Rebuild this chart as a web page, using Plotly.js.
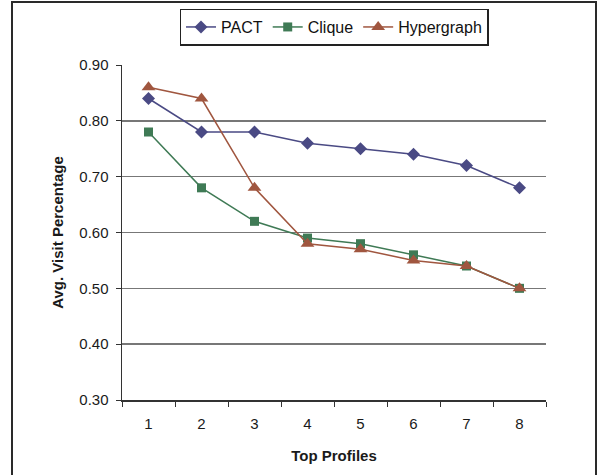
<!DOCTYPE html>
<html>
<head>
<meta charset="utf-8">
<script src="https://cdn.plot.ly/plotly-3.0.1.min.js"></script>
<style>
html,body{margin:0;padding:0;background:#fff;}
#wrap{position:relative;width:597px;height:475px;overflow:hidden;}
#chart{width:597px;height:475px;}
#frame{position:absolute;left:11px;top:1px;width:582px;height:490px;border:2px solid #2a2a2a;pointer-events:none;}
</style>
</head>
<body>
<div id="wrap"><div id="chart"></div><div id="frame"></div></div>
<script>
const categories = ['1','2','3','4','5','6','7','8'];
const pact = [0.84, 0.78, 0.78, 0.76, 0.75, 0.74, 0.72, 0.68];
const clique = [0.78, 0.68, 0.62, 0.59, 0.58, 0.56, 0.54, 0.50];
const hypergraph = [0.86, 0.84, 0.68, 0.58, 0.57, 0.55, 0.54, 0.50];
const yTicks = [0.30, 0.40, 0.50, 0.60, 0.70, 0.80, 0.90];

const font = 'Liberation Sans, Arial, sans-serif';
const traces = [
  {x: categories, y: pact, name: 'PACT', mode: 'lines+markers', type: 'scatter',
   line: {color: '#4a4a84', width: 1.5}, marker: {symbol: 'diamond', size: 10, color: '#4a4a84'}},
  {x: categories, y: clique, name: 'Clique', mode: 'lines+markers', type: 'scatter',
   line: {color: '#3f7a55', width: 1.5}, marker: {symbol: 'square', size: 9, color: '#3f7a55'}},
  {x: categories, y: hypergraph, name: 'Hypergraph', mode: 'lines+markers', type: 'scatter',
   line: {color: '#a0563f', width: 1.5}, marker: {symbol: 'triangle-up', size: 12, color: '#a0563f'}}
];
const layout = {
  width: 597, height: 475,
  margin: {l: 122, r: 51, t: 65, b: 75, autoexpand: false},
  paper_bgcolor: '#fff', plot_bgcolor: '#fff',
  font: {family: font, size: 15, color: '#1a1a1a'},
  showlegend: true,
  legend: {orientation: 'h', x: 0.5, xanchor: 'center', yref: 'container', y: 0.982, yanchor: 'top',
           bordercolor: '#222', borderwidth: 1.5, font: {family: font, size: 16, color: '#111'},
           itemwidth: 30, traceorder: 'normal'},
  xaxis: {type: 'category', range: [-0.5, 7.5], tickson: 'boundaries',
          ticks: 'outside', ticklen: 5, tickcolor: '#333', showline: true, linecolor: '#333', linewidth: 1.5,
          showgrid: false, zeroline: false, tickfont: {size: 15}, ticklabelstandoff: 9,
          title: {text: '<b>Top Profiles</b>', font: {size: 15}, standoff: 20}},
  yaxis: {range: [0.3, 0.9], tickvals: yTicks, ticktext: yTicks.map(v => v.toFixed(2)),
          ticks: 'outside', ticklen: 5, tickcolor: '#333', showline: true, linecolor: '#333', linewidth: 1.5,
          showgrid: true, gridcolor: '#777', gridwidth: 1.5, zeroline: false, tickfont: {size: 15},
          ticklabelstandoff: 4,
          title: {text: '<b>Avg. Visit Percentage</b>', font: {size: 15}, standoff: 12}}
};
Plotly.newPlot('chart', traces, layout, {staticPlot: true});
</script>
</body>
</html>
